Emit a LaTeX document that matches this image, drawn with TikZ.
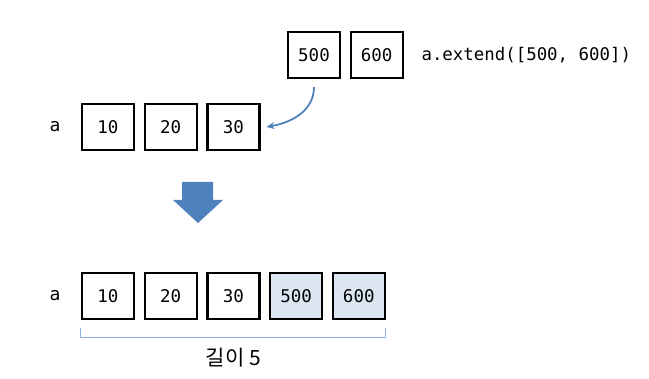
\documentclass[tikz,border=0pt]{standalone}
\usepackage{fontspec}
\setmonofont{DejaVu Sans Mono}
\newfontfamily\korfont{Noto Sans CJK KR}
\usetikzlibrary{arrows.meta,positioning,calc}
\definecolor{listblue}{RGB}{79,129,189}
\definecolor{cellfill}{RGB}{220,230,242}
\definecolor{bracketblue}{RGB}{141,179,226}
\tikzset{
  cell/.style={
    rectangle, draw=black, line width=2.2pt, fill=white,
    minimum width=52pt, minimum height=46pt, inner sep=0pt,
    font=\fontsize{17.5}{17.5}\selectfont\ttfamily
  },
  cellN/.style={
    cell, fill=cellfill
  },
  varname/.style={font=\fontsize{18}{18}\selectfont\ttfamily},
  code/.style={font=\fontsize{17.4}{17.4}\selectfont\ttfamily, anchor=west},
  arrowB/.style={-{Stealth[length=8pt,width=7pt]}, line width=1.8pt, color=listblue},
  bracketline/.style={line width=1pt, color=bracketblue}
}

\begin{document}
\begin{tikzpicture}[x=1pt, y=1pt, node distance=8.5pt]
  \useasboundingbox (0,0) rectangle (649,-379);

  % new items
  \node[cell] (n5) at (314,-55) {500};
  \node[cell, right=of n5] (n6) {600};
  \node[code] (ext) at (418,-55) {a.extend([500, 600])};

  % before
  \node[varname] (a1) at (55,-127) {a};
  \node[cell] (b1) at (108,-127) {10};
  \node[cell, right=of b1] (b2) {20};
  \node[cell, right=of b2] (b3) {30};

  \draw[arrowB] ([yshift=-8pt]n5.south) to[out=-90, in=10] ([xshift=6pt]b3.east);

  % step arrow
  \fill[listblue] (182,-182) -- (213,-182) -- (213,-200) -- (223,-200)
    -- (198,-223) -- (173,-200) -- (182,-200) -- cycle;

  % after
  \node[varname] (a2) at (55,-296) {a};
  \node[cell] (c1) at (108,-296) {10};
  \node[cell, right=of c1] (c2) {20};
  \node[cell, right=of c2] (c3) {30};
  \node[cellN, right=of c3] (c4) {500};
  \node[cellN, right=of c4] (c5) {600};

  \draw[bracketline] ($(c1.south west)+(0,-8)$) -- ++(0,-9)
    -| ($(c5.south east)+(0,-8)$);
  \node[font=\korfont\fontsize{21}{21}\selectfont] (len)
    at ($(c1.south)!0.5!(c5.south)+(0,-38)$) {길이 5};
\end{tikzpicture}
\end{document}
